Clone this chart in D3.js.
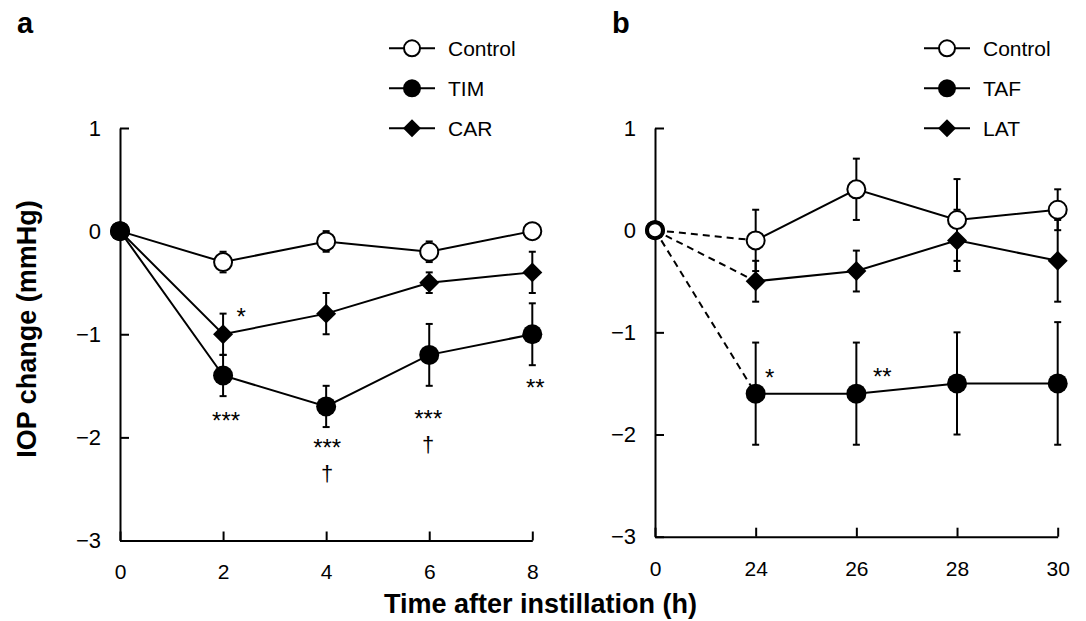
<!DOCTYPE html>
<html>
<head>
<meta charset="utf-8">
<script src="https://cdn.jsdelivr.net/npm/d3@7"></script>
<style>
  body { margin: 0; background: #fff; }
  svg { display: block; font-family: "Liberation Sans", Arial, sans-serif; }
</style>
</head>
<body>
<script>
// panel a : hours 0-8
const timesA = ["0", "2", "4", "6", "8"];
const controlA = [0, -0.3, -0.1, -0.2, 0];
const controlAErr = [0, 0.1, 0.1, 0.1, 0.08];
const timA = [0, -1.4, -1.7, -1.2, -1.0];
const timAErr = [0, 0.2, 0.2, 0.3, 0.3];
const carA = [0, -1.0, -0.8, -0.5, -0.4];
const carAErr = [0, 0.2, 0.2, 0.1, 0.2];
// [time, value, label, x shift]
const notesA = [
  ["2", -0.78, "*", 18],
  ["2", -1.79, "***", 3],
  ["4", -2.05, "***", 1],
  ["4", -2.37, "†", 1],
  ["6", -1.77, "***", -1],
  ["6", -2.08, "†", -1],
  ["8", -1.47, "**", 3]
];

// panel b : hours 0, 24-30
const timesB = ["0", "24", "26", "28", "30"];
const controlB = [0, -0.1, 0.4, 0.1, 0.2];
const controlBErr = [0, 0.3, 0.3, 0.4, 0.2];
const tafB = [0, -1.6, -1.6, -1.5, -1.5];
const tafBErr = [0, 0.5, 0.5, 0.5, 0.6];
const latB = [0, -0.5, -0.4, -0.1, -0.3];
const latBErr = [0, 0.2, 0.2, 0.3, 0.4];
const notesB = [
  ["24", -1.40, "*", 14],
  ["26", -1.39, "**", 26]
];

const yTicks = [1, 0, -1, -2, -3];

const svg = d3.select("body").append("svg")
  .attr("width", 1086)
  .attr("height", 621);

function styleAxis(g) {
  g.attr("font-family", null).attr("font-size", 21);
  g.select(".domain").attr("stroke", "#000").attr("stroke-width", 2);
  g.selectAll(".tick line").attr("stroke", "#000").attr("stroke-width", 2);
  g.selectAll(".tick text").attr("fill", "#000");
}

function drawMarker(g, shape, cx, cy, r, sw) {
  if (shape === "open") {
    const w = sw || 2;
    g.append("circle").attr("cx", cx).attr("cy", cy).attr("r", r - w / 2)
      .attr("fill", "#fff").attr("stroke", "#000").attr("stroke-width", w);
  } else if (shape === "filled") {
    g.append("circle").attr("cx", cx).attr("cy", cy).attr("r", r)
      .attr("fill", "#000");
  } else {
    g.append("path")
      .attr("d", d3.symbol().type(d3.symbolSquare).size(2 * r * r)())
      .attr("transform", "translate(" + cx + "," + cy + ") rotate(45)")
      .attr("fill", "#000");
  }
}

function drawPanel(p) {
  const x = d3.scalePoint().domain(p.times).range([p.left, p.right]);
  const y = d3.scaleLinear().domain([-3, 1]).range([p.bottom, p.top]);
  const g = svg.append("g");

  g.append("g")
    .attr("transform", "translate(" + p.left + ",0)")
    .call(d3.axisLeft(y).tickValues(yTicks).tickSizeInner(-9).tickSizeOuter(0)
      .tickPadding(19).tickFormat(d3.format("d")))
    .call(styleAxis)
    .attr("font-size", 22);

  g.append("g")
    .attr("transform", "translate(0," + p.bottom + ")")
    .call(d3.axisBottom(x).tickSizeInner(-9).tickSizeOuter(0).tickPadding(24))
    .call(styleAxis);

  const line = d3.line()
    .x(function(d) { return x(d.t); })
    .y(function(d) { return y(d.v); });

  p.series.forEach(function(s) {
    const pts = p.times.map(function(t, i) { return { t: t, v: s.values[i], e: s.err[i] }; });
    if (p.dashFirst) {
      g.append("path").attr("d", line(pts.slice(0, 2)))
        .attr("fill", "none").attr("stroke", "#000").attr("stroke-width", 2)
        .attr("stroke-dasharray", "7,5");
      g.append("path").attr("d", line(pts.slice(1)))
        .attr("fill", "none").attr("stroke", "#000").attr("stroke-width", 2);
    } else {
      g.append("path").attr("d", line(pts))
        .attr("fill", "none").attr("stroke", "#000").attr("stroke-width", 2);
    }
    pts.filter(function(d) { return d.e > 0; }).forEach(function(d) {
      const cx = x(d.t), y1 = y(d.v + d.e), y2 = y(d.v - d.e);
      g.append("line").attr("x1", cx).attr("x2", cx).attr("y1", y1).attr("y2", y2)
        .attr("stroke", "#000").attr("stroke-width", 2);
      [y1, y2].forEach(function(yy) {
        g.append("line").attr("x1", cx - 3.5).attr("x2", cx + 3.5).attr("y1", yy).attr("y2", yy)
          .attr("stroke", "#000").attr("stroke-width", 2);
      });
    });
  });

  p.drawOrder.forEach(function(k) {
    const s = p.series[k];
    p.times.forEach(function(t, i) {
      // overlapping origin point drawn with a heavier ring
      const sw = (i === 0 && p.dashFirst) ? 4 : 2;
      drawMarker(g, s.shape, x(t), y(s.values[i]), 10, sw);
    });
  });

  p.notes.forEach(function(n) {
    const dagger = n[2] === "†";
    g.append("text")
      .attr("x", x(n[0]) + n[3])
      .attr("y", y(n[1]))
      .attr("dy", dagger ? "0.27em" : "0.55em")
      .attr("text-anchor", "middle")
      .attr("font-size", dagger ? 22 : 24)
      .text(n[2]);
  });

  // legend
  p.series.forEach(function(s, i) {
    const ly = 48.3 + i * 40;
    const mx = p.left + 292;
    g.append("line").attr("x1", mx - 23).attr("x2", mx + 23).attr("y1", ly).attr("y2", ly)
      .attr("stroke", "#000").attr("stroke-width", 2);
    drawMarker(g, s.shape, mx, ly, 9);
    g.append("text").attr("x", mx + 36).attr("y", ly).attr("dy", "0.36em")
      .attr("font-size", 21).text(s.name);
  });

  g.append("text").attr("x", p.letterX).attr("y", 33)
    .attr("font-size", 29).attr("font-weight", "bold").text(p.letter);
}

drawPanel({
  letter: "a", letterX: 17,
  times: timesA, left: 120, right: 532.3, top: 128, bottom: 540.5,
  dashFirst: false,
  series: [
    { name: "Control", shape: "open", values: controlA, err: controlAErr },
    { name: "TIM", shape: "filled", values: timA, err: timAErr },
    { name: "CAR", shape: "diamond", values: carA, err: carAErr }
  ],
  drawOrder: [0, 2, 1],
  notes: notesA
});

drawPanel({
  letter: "b", letterX: 612,
  times: timesB, left: 655, right: 1057.7, top: 128, bottom: 536.7,
  dashFirst: true,
  series: [
    { name: "Control", shape: "open", values: controlB, err: controlBErr },
    { name: "TAF", shape: "filled", values: tafB, err: tafBErr },
    { name: "LAT", shape: "diamond", values: latB, err: latBErr }
  ],
  drawOrder: [1, 2, 0],
  notes: notesB
});

svg.append("text")
  .attr("x", 540.5).attr("y", 613)
  .attr("text-anchor", "middle")
  .attr("font-size", 27).attr("font-weight", "bold")
  .text("Time after instillation (h)");

svg.append("text")
  .attr("transform", "translate(36,329) rotate(-90)")
  .attr("text-anchor", "middle")
  .attr("font-size", 27).attr("font-weight", "bold")
  .text("IOP change (mmHg)");
</script>
</body>
</html>
